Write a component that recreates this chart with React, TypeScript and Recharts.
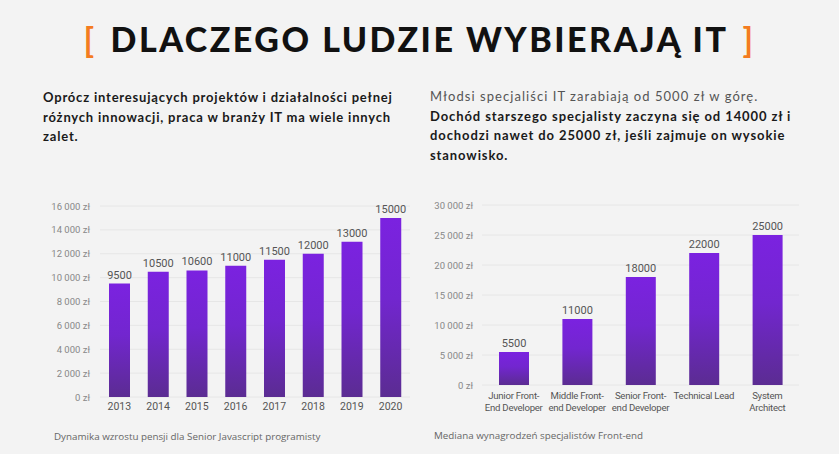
import React from "react";
import { BarChart, Bar, XAxis, YAxis, CartesianGrid, LabelList } from "recharts";

const years = ["2013", "2014", "2015", "2016", "2017", "2018", "2019", "2020"];
const seniorSalary = [9500, 10500, 10600, 11000, 11500, 12000, 13000, 15000];
const leftTicks = [0, 2000, 4000, 6000, 8000, 10000, 12000, 14000, 16000];

const roles = [
  "Junior Front-End Developer",
  "Middle Front-end Developer",
  "Senior Front-end Developer",
  "Technical Lead",
  "System Architect",
];
const roleLabelLines = [
  ["Junior Front-", "End Developer"],
  ["Middle Front-", "end Developer"],
  ["Senior Front-", "end Developer"],
  ["Technical Lead"],
  ["System", "Architect"],
];
const medianSalary = [5500, 11000, 18000, 22000, 25000];
const rightTicks = [0, 5000, 10000, 15000, 20000, 25000, 30000];

const leftData = years.map((y, i) => ({ name: y, value: seniorSalary[i] }));
const rightData = roles.map((r, i) => ({ name: r, value: medianSalary[i] }));

const fmt = (v: number) => `${v.toLocaleString("en-US").replace(/,/g, " ")} zł`;

const axisFont = "Roboto, sans-serif";

const RoleTick = (props: any) => {
  const { x, y, payload } = props;
  const idx = roles.indexOf(payload.value);
  const lines = roleLabelLines[idx] || [payload.value];
  return (
    <g transform={`translate(${x},${y})`}>
      {lines.map((l: string, i: number) => (
        <text
          key={i}
          x={0}
          y={i * 12}
          dy={9}
          textAnchor="middle"
          fill="#555"
          fontSize={9.6}
          letterSpacing={-0.25}
          fontFamily={axisFont}
        >
          {l}
        </text>
      ))}
    </g>
  );
};

const YTick = (props: any) => {
  const { x, y, payload } = props;
  return (
    <text
      x={x}
      y={y}
      dy={3.5}
      textAnchor="end"
      fill="#888"
      fontSize={9.5}
      fontFamily={axisFont}
    >
      {fmt(payload.value)}
    </text>
  );
};

const YearTick = (props: any) => {
  const { x, y, payload } = props;
  return (
    <text x={x} y={y} dy={9} textAnchor="middle" fill="#555" fontSize={10.5} fontFamily={axisFont}>
      {payload.value}
    </text>
  );
};

const Gradient = ({ id }: { id: string }) => (
  <defs>
    <linearGradient id={id} x1="0" y1="0" x2="0" y2="1">
      <stop offset="0%" stopColor="#7b22e0" />
      <stop offset="45%" stopColor="#7226cf" />
      <stop offset="100%" stopColor="#5b2c92" />
    </linearGradient>
  </defs>
);

export default function App() {
  return (
    <div
      style={{
        position: "absolute",
        left: 0,
        top: 0,
        width: 839,
        height: 454,
        background: "#f3f3f3",
        overflow: "hidden",
      }}
    >
      <div
        style={{
          position: "absolute",
          left: 0,
          top: 14,
          width: 839,
          textAlign: "center",
          fontFamily: "Lato, sans-serif",
          fontWeight: 900,
          fontSize: 34,
          letterSpacing: 2.5,
          color: "#111",
          lineHeight: "50px",
        }}
      >
        <span style={{ color: "#f47b20", fontWeight: 700 }}>[</span>
        <span style={{ margin: "0 14px" }}>DLACZEGO LUDZIE WYBIERAJĄ IT</span>
        <span style={{ color: "#f47b20", fontWeight: 700 }}>]</span>
      </div>

      <div
        style={{
          position: "absolute",
          left: 43,
          top: 88,
          fontFamily: "Lato, sans-serif",
          fontWeight: 700,
          fontSize: 13,
          letterSpacing: 0.8,
          lineHeight: "19.5px",
          color: "#1a1a1a",
          whiteSpace: "nowrap",
        }}
      >
        <div>Oprócz interesujących projektów i działalności pełnej</div>
        <div>różnych innowacji, praca w branży IT ma wiele innych</div>
        <div>zalet.</div>
      </div>

      <div
        style={{
          position: "absolute",
          left: 430,
          top: 87,
          fontFamily: "Lato, sans-serif",
          fontSize: 13,
          letterSpacing: 0.9,
          lineHeight: "19.5px",
          color: "#1a1a1a",
          whiteSpace: "nowrap",
        }}
      >
        <div style={{ fontWeight: 400, color: "#555", letterSpacing: 1.05 }}>
          Młodsi specjaliści IT zarabiają od 5000 zł w górę.
        </div>
        <div style={{ fontWeight: 700 }}>
          Dochód starszego specjalisty zaczyna się od 14000 zł i
        </div>
        <div style={{ fontWeight: 700 }}>
          dochodzi nawet do 25000 zł, jeśli zajmuje on wysokie
        </div>
        <div style={{ fontWeight: 700 }}>stanowisko.</div>
      </div>

      <div style={{ position: "absolute", left: 40, top: 190 }}>
        <BarChart
          width={380}
          height={230}
          data={leftData}
          margin={{ top: 16, right: 10, bottom: 3, left: 5 }}
        >
          <Gradient id="gradL" />
          <CartesianGrid vertical={false} stroke="#e6e6e6" />
          <XAxis
            dataKey="name"
            axisLine={false}
            tickLine={false}
            height={20}
            tick={<YearTick />}
            tickSize={0}
            tickMargin={4}
          />
          <YAxis
            width={55}
            domain={[0, 16000]}
            ticks={leftTicks}
            axisLine={false}
            tickLine={false}
            tickSize={0}
            tickMargin={10}
            tick={<YTick />}
          />
          <Bar dataKey="value" fill="url(#gradL)" barSize={21} isAnimationActive={false}>
            <LabelList
              dataKey="value"
              position="top"
              offset={5}
              fill="#555"
              fontSize={11}
              fontFamily={axisFont}
            />
          </Bar>
        </BarChart>
      </div>

      <div style={{ position: "absolute", left: 420, top: 190 }}>
        <BarChart
          width={390}
          height={240}
          data={rightData}
          margin={{ top: 15, right: 11, bottom: 5, left: 2 }}
        >
          <Gradient id="gradR" />
          <CartesianGrid vertical={false} stroke="#e6e6e6" />
          <XAxis
            dataKey="name"
            axisLine={false}
            tickLine={false}
            height={40}
            interval={0}
            tickSize={0}
            tickMargin={5}
            tick={<RoleTick />}
          />
          <YAxis
            width={60}
            domain={[0, 30000]}
            ticks={rightTicks}
            axisLine={false}
            tickLine={false}
            tickSize={0}
            tickMargin={9}
            tick={<YTick />}
          />
          <Bar dataKey="value" fill="url(#gradR)" barSize={30} isAnimationActive={false}>
            <LabelList
              dataKey="value"
              position="top"
              offset={5}
              fill="#555"
              fontSize={11}
              fontFamily={axisFont}
            />
          </Bar>
        </BarChart>
      </div>

      <div
        style={{
          position: "absolute",
          left: 54,
          top: 430,
          fontFamily: "'Open Sans', sans-serif",
          fontSize: 9.8,
          color: "#666",
          whiteSpace: "nowrap",
        }}
      >
        Dynamika wzrostu pensji dla Senior Javascript programisty
      </div>
      <div
        style={{
          position: "absolute",
          left: 434,
          top: 429,
          fontFamily: "'Open Sans', sans-serif",
          fontSize: 9.8,
          color: "#666",
          whiteSpace: "nowrap",
        }}
      >
        Mediana wynagrodzeń specjalistów Front-end
      </div>
    </div>
  );
}
